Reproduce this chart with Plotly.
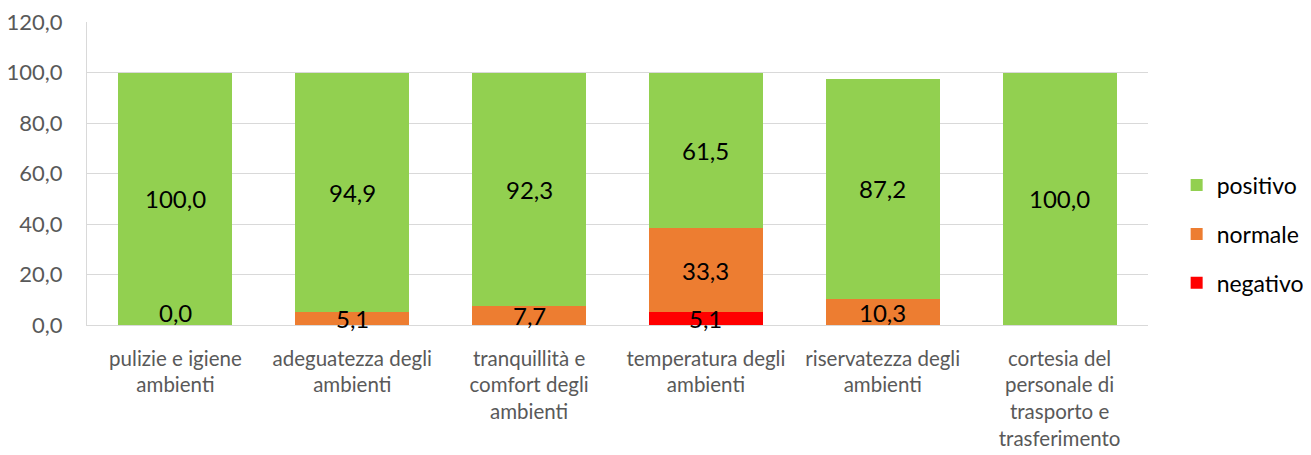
import plotly.graph_objects as go

categories = [
    "pulizie e igiene<br>ambienti",
    "adeguatezza degli<br>ambienti",
    "tranquillità e<br>comfort degli<br>ambienti",
    "temperatura degli<br>ambienti",
    "riservatezza degli<br>ambienti",
    "cortesia del<br>personale di<br>trasporto e<br>trasferimento",
]
negativo = [None, None, None, 5.1, None, None]
normale = [0.0, 5.1, 7.7, 33.3, 10.3, None]
positivo = [100.0, 94.9, 92.3, 61.5, 87.2, 100.0]

series = [("negativo", negativo, "#FF0000", 3),
          ("normale", normale, "#ED7D31", 2),
          ("positivo", positivo, "#92D050", 1)]

FONT = "Lato"
fig = go.Figure()
base = [0.0] * len(categories)
annotations = []
for name, vals, color, rank in series:
    fig.add_trace(go.Bar(
        x=categories, y=[v if v is not None else 0 for v in vals], name=name,
        marker=dict(color=color, line=dict(width=0)),
        legendgroup=name, legendrank=rank, hoverinfo="skip",
    ))
    for i, v in enumerate(vals):
        if v is None:
            continue
        txt = f"{v:.1f}".replace(".", ",")
        if v == 0:
            annotations.append(dict(x=categories[i], y=base[i], text=txt,
                                    showarrow=False, yanchor="bottom", yshift=-4,
                                    font=dict(family=FONT, size=24, color="black")))
        else:
            annotations.append(dict(x=categories[i], y=base[i] + v / 2, text=txt,
                                    showarrow=False, yanchor="middle",
                                    font=dict(family=FONT, size=24, color="black")))
        base[i] += v

fig.update_layout(
    barmode="stack",
    bargap=0.355,
    width=1303, height=447,
    margin=dict(l=79, r=163, t=14, b=130, autoexpand=False),
    paper_bgcolor="white", plot_bgcolor="white",
    separators=",.",
    font=dict(family=FONT, size=22, color="#595959"),
    annotations=annotations,
    showlegend=True,
    legend=dict(x=1.027, xanchor="left", y=0.3, yanchor="middle",
                traceorder="grouped", tracegroupgap=16,
                font=dict(family=FONT, size=23, color="black")),
    xaxis=dict(showline=True, linecolor="#D9D9D9", linewidth=1,
               tickfont=dict(family=FONT, size=20.5, color="#595959"),
               ticks="", ticklabelstandoff=15, automargin=False, fixedrange=True),
    yaxis=dict(range=[0, 120], dtick=20, tickformat=".1f",
               showgrid=True, gridcolor="#D9D9D9", gridwidth=1,
               showline=True, linecolor="#D9D9D9", linewidth=1,
               zeroline=False, ticks="", ticklabelstandoff=19, automargin=False,
               ticklabeloverflow="allow",
               tickfont=dict(family=FONT, size=22, color="#595959")),
)
fig.write_html("out.html")
